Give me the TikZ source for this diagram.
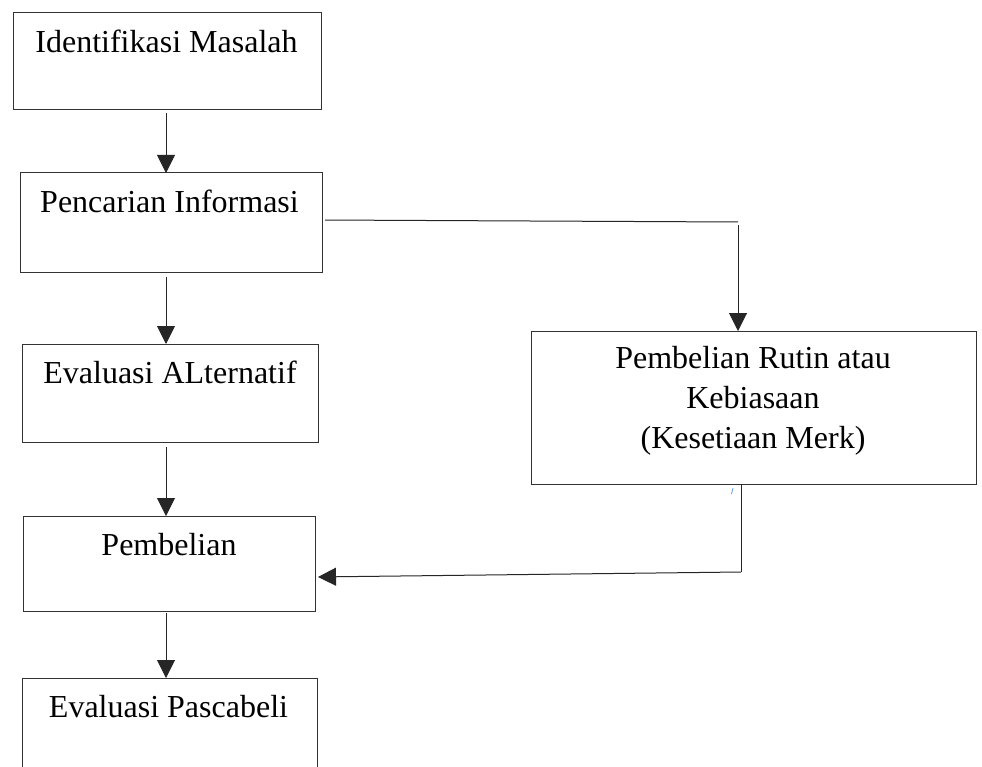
\documentclass[tikz,border=0pt]{standalone}
\usepackage{fontspec}
\setmainfont{Liberation Serif}
\usetikzlibrary{arrows.meta}
\begin{document}
\begin{tikzpicture}[x=1pt,y=-1pt,
  box/.style={draw=black!80, line width=1pt, rectangle, inner sep=0pt, outer sep=0pt},
  lbl/.style={anchor=base, inner sep=0pt, font=\fontsize{32}{40}\selectfont},
  conn/.style={draw=black!85, line width=1pt},
  arr/.style={conn, -{Triangle[length=18pt,width=18pt]}}]
\useasboundingbox (0,0) rectangle (982,767);
\clip (0,0) rectangle (982,767);
\fill[white] (0,0) rectangle (982,767);
% boxes
\node[box, minimum width=308pt, minimum height=97pt] (b1) at (167,61.5) {};
\node[box, minimum width=302pt, minimum height=100pt] (b2) at (171,223) {};
\node[box, minimum width=296pt, minimum height=98pt] (b3) at (170,393) {};
\node[box, minimum width=292pt, minimum height=95pt] (b4) at (169,563.5) {};
\node[box, minimum width=295pt, minimum height=122pt] (b5) at (169.5,739) {};
\node[box, minimum width=445pt, minimum height=153pt] (r) at (753.5,407.5) {};
% labels
\node[lbl] (t1) at (166.5,53) {Identifikasi Masalah};
\node[lbl] (t2) at (169.5,213) {Pencarian Informasi};
\node[lbl] (t3) at (170,383) {Evaluasi ALternatif};
\node[lbl] (t4) at (169,555) {Pembelian};
\node[lbl] (t5) at (168.5,717) {Evaluasi Pascabeli};
\node[lbl] (r1) at (753,368) {Pembelian Rutin atau};
\node[lbl] (r2) at (753,408) {Kebiasaan};
\node[lbl] (r3) at (753,448) {(Kesetiaan Merk)};
% vertical arrows
\coordinate (ax) at (166,0);
\draw[arr, shorten <=3pt] (b1.south -| ax) -- (b2.north -| ax);
\draw[arr, shorten <=4pt] (b2.south -| ax) -- (b3.north -| ax);
\draw[arr, shorten <=5pt] (b3.south -| ax) -- (b4.north -| ax);
\draw[arr, shorten <=2pt] (b4.south -| ax) -- (b5.north -| ax);
% right branch
\coordinate (c1) at (738,222);
\draw[conn, shorten <=3pt] ([yshift=3pt]b2.east) -- (c1);
\draw[arr] ([yshift=-3pt]c1) -- (c1 |- r.north);
\coordinate (c2) at (741,572);
\draw[conn] (r.south -| c2) -- (c2);
\draw[arr, shorten >=3pt] (c2) -- ([yshift=-13.5pt]b4.east);
% small blue mark
\draw[color={rgb,255:red,70;green,140;blue,210}, line width=0.7pt] (731.5,494) -- (733,488);
\end{tikzpicture}
\end{document}
